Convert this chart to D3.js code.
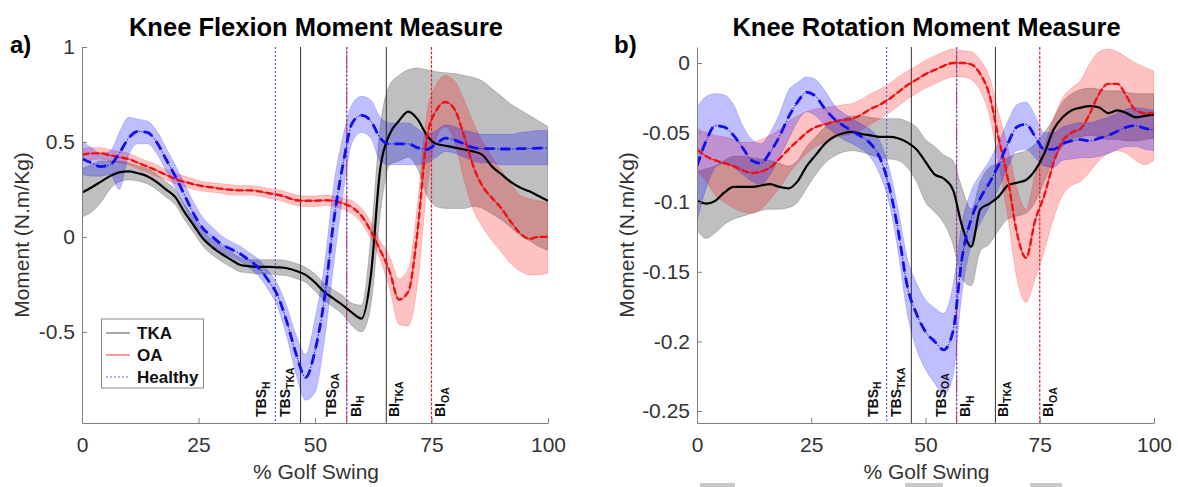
<!DOCTYPE html>
<html><head><meta charset="utf-8">
<script src="https://cdn.jsdelivr.net/npm/d3@7"></script>
<style>body{margin:0;background:#fff} svg{display:block} text{font-family:"Liberation Sans",Arial,sans-serif}</style>
</head><body><svg id="c" width="1178" height="487"></svg>
<script>
// ---------- DATA ----------
const pct = [0,2,4,6,8,10,12,14,16,18,20,22,24,26,28,30,32,34,36,38,40,42,44,46,48,50,52,54,56,58,60,62,64,66,68,70,72,74,76,78,80,82,84,86,88,90,92,94,96,98,100];

const groups = ["TKA","OA","Healthy"];
const xTicks = [0,25,50,75,100];
const flexTicks = [-0.5,0,0.5,1];
const rotTicks = [-0.25,-0.2,-0.15,-0.1,-0.05,0];

const eventX = [41.5, 46.9, 56.8, 56.8, 65.3, 75.0];
const eventGroup = ["Healthy","TKA","OA","Healthy","TKA","OA"];
const eventLabelX = [39.5, 44.6, 54.4, 59.8, 68.0, 78.0];
const eventLabelMain = ["TBS","TBS","TBS","BI","BI","BI"];
const eventLabelSub = ["H","TKA","OA","H","TKA","OA"];

// Knee flexion moment (panel a)
const flexTKA = [0.233,0.26,0.29,0.32,0.34,0.345,0.335,0.32,0.29,0.25,0.21,0.13,0.06,-0.01,-0.055,-0.09,-0.12,-0.148,-0.155,-0.158,-0.158,-0.16,-0.165,-0.18,-0.2,-0.24,-0.29,-0.325,-0.36,-0.40,-0.43,-0.2,0.36,0.54,0.61,0.66,0.62,0.535,0.49,0.48,0.47,0.46,0.45,0.43,0.37,0.33,0.29,0.26,0.24,0.215,0.19];
const flexTKALo = [0.105,0.13,0.18,0.25,0.29,0.30,0.295,0.28,0.25,0.21,0.17,0.09,0.02,-0.05,-0.095,-0.13,-0.16,-0.185,-0.19,-0.195,-0.195,-0.2,-0.205,-0.22,-0.24,-0.285,-0.335,-0.37,-0.41,-0.47,-0.50,-0.36,0.12,0.38,0.40,0.42,0.36,0.22,0.16,0.15,0.15,0.15,0.16,0.15,0.12,0.09,0.05,0.01,-0.02,-0.05,-0.07];
const flexTKAHi = [0.36,0.38,0.40,0.40,0.40,0.39,0.375,0.36,0.33,0.29,0.25,0.17,0.10,0.03,-0.015,-0.05,-0.08,-0.11,-0.12,-0.12,-0.12,-0.12,-0.125,-0.14,-0.16,-0.195,-0.245,-0.28,-0.31,-0.35,-0.36,0.0,0.58,0.80,0.85,0.88,0.89,0.88,0.87,0.865,0.86,0.85,0.84,0.82,0.78,0.74,0.70,0.67,0.64,0.61,0.58];
const flexOA = [0.433,0.44,0.44,0.43,0.42,0.41,0.39,0.37,0.35,0.327,0.305,0.29,0.277,0.267,0.26,0.253,0.248,0.245,0.245,0.24,0.23,0.222,0.208,0.193,0.19,0.19,0.193,0.19,0.177,0.155,0.11,0.03,-0.07,-0.18,-0.33,-0.29,0.03,0.52,0.665,0.71,0.67,0.53,0.37,0.265,0.205,0.15,0.08,0.02,-0.01,0.0,0.0];
const flexOALo = [0.40,0.405,0.41,0.40,0.39,0.38,0.36,0.34,0.32,0.30,0.28,0.265,0.25,0.24,0.235,0.23,0.22,0.22,0.22,0.215,0.205,0.195,0.18,0.165,0.16,0.16,0.165,0.16,0.145,0.12,0.07,-0.01,-0.12,-0.27,-0.46,-0.47,-0.25,0.25,0.52,0.58,0.50,0.30,0.14,0.05,-0.02,-0.08,-0.14,-0.18,-0.2,-0.2,-0.19];
const flexOAHi = [0.465,0.47,0.47,0.46,0.45,0.44,0.42,0.40,0.38,0.355,0.335,0.32,0.305,0.29,0.285,0.28,0.275,0.27,0.27,0.265,0.255,0.25,0.235,0.22,0.215,0.215,0.22,0.215,0.205,0.19,0.15,0.08,-0.02,-0.1,-0.22,-0.17,0.17,0.65,0.80,0.85,0.82,0.72,0.60,0.50,0.42,0.35,0.28,0.22,0.2,0.19,0.18];
const flexH = [0.412,0.39,0.37,0.38,0.44,0.52,0.555,0.55,0.5,0.41,0.32,0.22,0.12,0.044,0.0,-0.04,-0.065,-0.09,-0.125,-0.165,-0.23,-0.31,-0.45,-0.62,-0.74,-0.6,-0.33,0.08,0.38,0.6,0.64,0.61,0.52,0.49,0.49,0.49,0.47,0.46,0.49,0.52,0.51,0.49,0.47,0.465,0.465,0.463,0.463,0.465,0.465,0.468,0.468];
const flexHLo = [0.33,0.32,0.32,0.33,0.25,0.43,0.49,0.49,0.44,0.35,0.26,0.16,0.07,0.0,-0.045,-0.08,-0.105,-0.13,-0.165,-0.21,-0.28,-0.37,-0.53,-0.73,-0.86,-0.82,-0.55,-0.15,0.22,0.5,0.55,0.52,0.4,0.38,0.38,0.38,0.38,0.39,0.42,0.45,0.44,0.42,0.4,0.39,0.39,0.38,0.38,0.38,0.38,0.38,0.38];
const flexHHi = [0.5,0.47,0.44,0.45,0.55,0.63,0.62,0.61,0.56,0.47,0.38,0.28,0.18,0.1,0.05,0.005,-0.025,-0.05,-0.085,-0.12,-0.18,-0.25,-0.37,-0.52,-0.62,-0.43,-0.15,0.27,0.53,0.7,0.74,0.72,0.63,0.6,0.6,0.6,0.57,0.54,0.56,0.59,0.58,0.56,0.55,0.54,0.54,0.54,0.54,0.55,0.555,0.56,0.56];

// Knee rotation moment (panel b)
const rotTKA = [-0.099,-0.101,-0.099,-0.093,-0.089,-0.089,-0.089,-0.088,-0.087,-0.089,-0.09,-0.085,-0.074,-0.066,-0.058,-0.053,-0.0505,-0.0495,-0.051,-0.052,-0.053,-0.053,-0.054,-0.057,-0.062,-0.071,-0.08,-0.083,-0.091,-0.117,-0.132,-0.105,-0.101,-0.096,-0.088,-0.086,-0.084,-0.077,-0.065,-0.048,-0.039,-0.034,-0.032,-0.031,-0.032,-0.036,-0.034,-0.036,-0.039,-0.038,-0.037];
const rotTKALo = [-0.12,-0.126,-0.122,-0.116,-0.112,-0.11,-0.108,-0.106,-0.105,-0.105,-0.104,-0.1,-0.09,-0.08,-0.072,-0.067,-0.064,-0.063,-0.064,-0.066,-0.068,-0.069,-0.07,-0.075,-0.085,-0.1,-0.107,-0.115,-0.13,-0.155,-0.16,-0.135,-0.13,-0.12,-0.112,-0.11,-0.108,-0.1,-0.085,-0.07,-0.06,-0.055,-0.053,-0.052,-0.053,-0.055,-0.055,-0.056,-0.056,-0.055,-0.054];
const rotTKAHi = [-0.078,-0.076,-0.074,-0.07,-0.067,-0.067,-0.068,-0.069,-0.07,-0.072,-0.074,-0.07,-0.06,-0.053,-0.046,-0.042,-0.04,-0.038,-0.038,-0.039,-0.04,-0.04,-0.04,-0.042,-0.046,-0.055,-0.06,-0.066,-0.07,-0.09,-0.105,-0.085,-0.075,-0.072,-0.068,-0.065,-0.063,-0.058,-0.05,-0.04,-0.028,-0.022,-0.019,-0.018,-0.019,-0.02,-0.02,-0.021,-0.022,-0.022,-0.022];
const rotOA = [-0.062,-0.067,-0.07,-0.072,-0.074,-0.077,-0.079,-0.078,-0.075,-0.069,-0.062,-0.056,-0.05,-0.046,-0.044,-0.042,-0.041,-0.04,-0.037,-0.033,-0.03,-0.026,-0.021,-0.016,-0.012,-0.008,-0.005,-0.002,0.0,0.0,-0.001,-0.008,-0.023,-0.054,-0.083,-0.122,-0.14,-0.113,-0.095,-0.072,-0.056,-0.05,-0.047,-0.036,-0.022,-0.015,-0.015,-0.024,-0.034,-0.036,-0.036];
const rotOALo = [-0.078,-0.085,-0.095,-0.1,-0.104,-0.107,-0.108,-0.105,-0.098,-0.09,-0.08,-0.072,-0.065,-0.06,-0.057,-0.054,-0.052,-0.051,-0.048,-0.044,-0.04,-0.036,-0.031,-0.026,-0.022,-0.018,-0.015,-0.012,-0.01,-0.01,-0.012,-0.02,-0.038,-0.072,-0.11,-0.155,-0.172,-0.155,-0.135,-0.112,-0.095,-0.088,-0.085,-0.078,-0.07,-0.065,-0.063,-0.065,-0.07,-0.073,-0.07];
const rotOAHi = [-0.047,-0.05,-0.052,-0.053,-0.055,-0.057,-0.057,-0.055,-0.052,-0.048,-0.042,-0.038,-0.035,-0.033,-0.032,-0.031,-0.03,-0.029,-0.026,-0.022,-0.019,-0.015,-0.01,-0.006,-0.002,0.002,0.005,0.008,0.01,0.009,0.008,0.002,-0.01,-0.036,-0.06,-0.09,-0.105,-0.08,-0.06,-0.04,-0.025,-0.018,-0.012,0.0,0.008,0.01,0.008,0.004,0.0,-0.003,-0.006];
const rotH = [-0.074,-0.056,-0.045,-0.046,-0.052,-0.061,-0.07,-0.072,-0.064,-0.053,-0.039,-0.028,-0.021,-0.024,-0.033,-0.04,-0.045,-0.049,-0.053,-0.058,-0.068,-0.088,-0.12,-0.16,-0.18,-0.193,-0.2,-0.206,-0.193,-0.14,-0.112,-0.097,-0.086,-0.073,-0.058,-0.046,-0.044,-0.053,-0.062,-0.062,-0.058,-0.056,-0.055,-0.056,-0.054,-0.052,-0.049,-0.046,-0.045,-0.047,-0.048];
const rotHLo = [-0.114,-0.09,-0.075,-0.072,-0.075,-0.08,-0.085,-0.087,-0.08,-0.068,-0.055,-0.042,-0.035,-0.038,-0.045,-0.05,-0.055,-0.058,-0.062,-0.068,-0.08,-0.1,-0.135,-0.18,-0.205,-0.22,-0.23,-0.238,-0.225,-0.165,-0.13,-0.115,-0.103,-0.09,-0.075,-0.063,-0.062,-0.068,-0.074,-0.075,-0.07,-0.069,-0.068,-0.068,-0.067,-0.065,-0.062,-0.06,-0.06,-0.062,-0.063];
const rotHHi = [-0.032,-0.024,-0.022,-0.023,-0.03,-0.045,-0.055,-0.058,-0.05,-0.037,-0.02,-0.014,-0.01,-0.012,-0.02,-0.03,-0.036,-0.04,-0.044,-0.048,-0.056,-0.075,-0.105,-0.14,-0.158,-0.17,-0.176,-0.18,-0.16,-0.115,-0.092,-0.08,-0.07,-0.057,-0.042,-0.03,-0.028,-0.038,-0.05,-0.05,-0.046,-0.044,-0.043,-0.043,-0.041,-0.039,-0.036,-0.033,-0.032,-0.033,-0.034];

// ---------- STYLE ----------
const bandFill = {TKA:"rgba(0,0,0,0.25)", OA:"rgba(255,0,0,0.24)", Healthy:"rgba(0,0,255,0.25)"};
const bandEdge = {TKA:"rgba(0,0,0,0.3)", OA:"rgba(255,0,0,0.3)", Healthy:"rgba(0,0,255,0.3)"};
const eventColor = {TKA:"#333", OA:"#e8202a", Healthy:"#5a5af0"};
const eventDash = {TKA:null, OA:"3,1.5", Healthy:"2,2"};

const panels = [
  {id:"a", title:"Knee Flexion Moment Measure", left:82, right:548, domain:[-0.98,1], ticks:flexTicks,
   series:{TKA:[flexTKA,flexTKALo,flexTKAHi], OA:[flexOA,flexOALo,flexOAHi], Healthy:[flexH,flexHLo,flexHHi]},
   legend:true, labelX:22, tag:"a)", tagX:10},
  {id:"b", title:"Knee Rotation Moment Measure", left:697, right:1154, domain:[-0.2586,0.0115], ticks:rotTicks,
   series:{TKA:[rotTKA,rotTKALo,rotTKAHi], OA:[rotOA,rotOALo,rotOAHi], Healthy:[rotH,rotHLo,rotHHi]},
   legend:false, labelX:627, tag:"b)", tagX:614}
];

const svg = d3.select("#c");
const plotTop = 47, plotBottom = 423;
const axisColor = "#7f7f7f", textColor = "#333";

panels.forEach((p, pi) => {
  const x = d3.scaleLinear().domain([0,100]).range([p.left, p.right]);
  const y = d3.scaleLinear().domain(p.domain).range([plotBottom, plotTop]);
  const g = svg.append("g");
  const clipId = "clip" + pi;
  svg.append("clipPath").attr("id", clipId).append("rect")
    .attr("x", p.left).attr("y", plotTop).attr("width", p.right - p.left).attr("height", plotBottom - plotTop);
  const plot = g.append("g").attr("clip-path", `url(#${clipId})`);

  groups.forEach(k => {
    const [m, lo, hi] = p.series[k];
    const area = d3.area().x((d,i) => x(pct[i])).y0((d,i) => y(lo[i])).y1((d,i) => y(hi[i])).curve(d3.curveMonotoneX);
    plot.append("path").attr("d", area(pct)).attr("fill", bandFill[k]).attr("stroke", bandEdge[k]).attr("stroke-width", 0.6);
  });

  eventX.forEach((ex, i) => {
    const k = eventGroup[i];
    plot.append("line").attr("x1", x(ex)).attr("x2", x(ex)).attr("y1", plotTop).attr("y2", plotBottom)
      .attr("stroke", eventColor[k]).attr("stroke-width", k === "TKA" ? 1 : 1.2)
      .attr("stroke-dasharray", eventDash[k]);
  });

  const line = arr => d3.line().x((d,i) => x(pct[i])).y((d,i) => y(arr[i])).curve(d3.curveMonotoneX)(pct);
  plot.append("path").attr("d", line(p.series.TKA[0])).attr("fill","none").attr("stroke","#000").attr("stroke-width",2.2);
  plot.append("path").attr("d", line(p.series.OA[0])).attr("fill","none").attr("stroke","#ee1111").attr("stroke-width",1);
  plot.append("path").attr("d", line(p.series.OA[0])).attr("fill","none").attr("stroke","#ee1111").attr("stroke-width",2.4).attr("stroke-dasharray","7,3");
  plot.append("path").attr("d", line(p.series.Healthy[0])).attr("fill","none").attr("stroke","#1010ee").attr("stroke-width",1).attr("stroke-dasharray","1.5,1.5");
  plot.append("path").attr("d", line(p.series.Healthy[0])).attr("fill","none").attr("stroke","#1010ee").attr("stroke-width",2.8).attr("stroke-dasharray","10,6");

  eventLabelX.forEach((lx, i) => {
    const t = g.append("text").attr("transform", `translate(${x(lx)},417) rotate(-90)`)
      .attr("font-size", 14).attr("font-weight", "bold").attr("fill", "#111");
    t.append("tspan").text(eventLabelMain[i]);
    t.append("tspan").attr("dy", "0.35em").attr("font-size", 10.5).text(eventLabelSub[i]);
  });

  const xa = g.append("g").attr("transform", `translate(0,${plotBottom})`)
    .call(d3.axisBottom(x).tickValues(xTicks).tickSizeInner(-5).tickSizeOuter(0).tickPadding(14).tickFormat(d => String(d)));
  const ya = g.append("g").attr("transform", `translate(${p.left},0)`)
    .call(d3.axisLeft(y).tickValues(p.ticks).tickSizeInner(-5).tickSizeOuter(0).tickPadding(7).tickFormat(d => String(d)));
  [xa, ya].forEach(a => {
    a.select(".domain").attr("stroke", axisColor);
    a.selectAll(".tick line").attr("stroke", axisColor);
    a.selectAll(".tick text").attr("font-size", 21).attr("fill", textColor).attr("font-family", '"Liberation Sans",Arial,sans-serif');
  });

  g.append("text").attr("x", (p.left + p.right)/2 + 1).attr("y", 479).attr("text-anchor","middle")
    .attr("font-size", 21).attr("fill", textColor).text("% Golf Swing");
  g.append("text").attr("transform", `translate(${p.labelX + 7},235) rotate(-90)`).attr("text-anchor","middle")
    .attr("font-size", 21).attr("fill", textColor).text("Moment (N.m/Kg)");

  g.append("text").attr("x", (p.left + p.right)/2 + 1).attr("y", 36).attr("text-anchor","middle")
    .attr("font-size", 25.5).attr("font-weight","bold").attr("fill","#000").text(p.title);
  g.append("text").attr("x", p.tagX).attr("y", 53).attr("font-size", 24).attr("font-weight","bold").attr("fill","#000").text(p.tag);

  if (p.legend) {
    const lg = g.append("g");
    lg.append("rect").attr("x",101.5).attr("y",319).attr("width",102).attr("height",69)
      .attr("fill","#fff").attr("stroke","#888").attr("stroke-width",1);
    const entries = [["TKA","#8a8a8a",null,1.5],["OA","#f07878",null,1.5],["Healthy","#6a6ae0","2,2",1.2]];
    entries.forEach((e, i) => {
      const yy = 333 + i*22;
      lg.append("line").attr("x1",106).attr("x2",130).attr("y1",yy).attr("y2",yy)
        .attr("stroke",e[1]).attr("stroke-width",e[3]).attr("stroke-dasharray",e[2]);
      lg.append("text").attr("x",137).attr("y",yy+6).attr("font-size",17).attr("font-weight","bold").attr("fill","#111").text(e[0]);
    });
  }
});

[[700,735],[905,943],[1030,1062]].forEach(r => {
  svg.append("rect").attr("x", r[0]).attr("y", 483).attr("width", r[1]-r[0]).attr("height", 4).attr("fill", "#c8c8c8");
});
</script>
</body></html>
